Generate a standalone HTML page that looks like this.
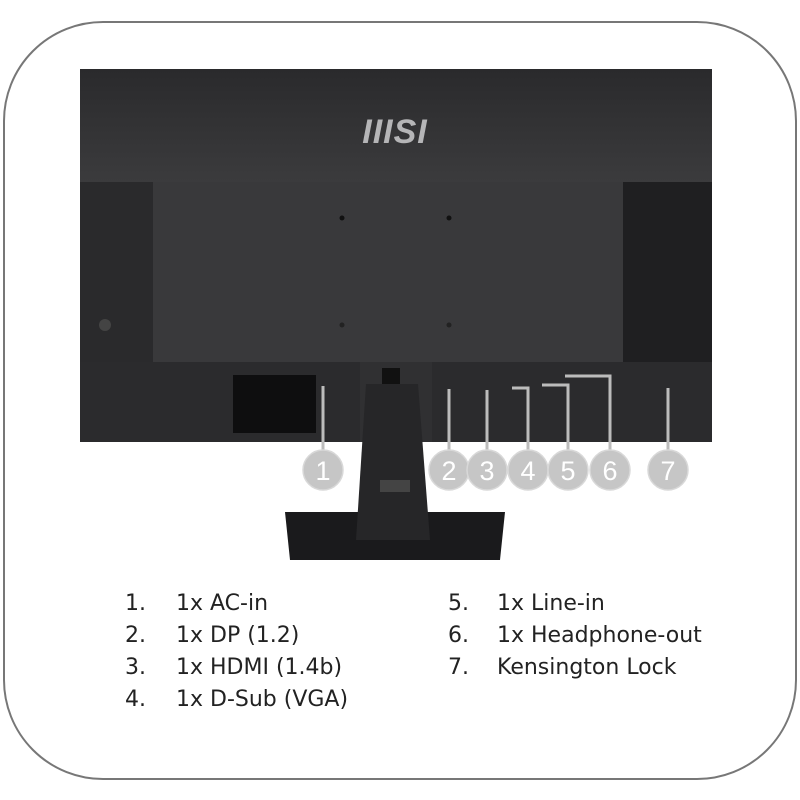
<!DOCTYPE html>
<html><head><style>
html,body{margin:0;padding:0;background:#fff;}
body{width:800px;height:800px;position:relative;overflow:hidden;font-family:"Liberation Sans",sans-serif;}
.frame{position:absolute;left:3px;top:21px;width:790px;height:755px;border:2px solid #777;border-radius:100px;}
.a{position:absolute;}
.txt{position:absolute;font-family:"DejaVu Sans","Liberation Sans",sans-serif;font-size:22px;color:#222;}
</style></head><body>
<div class="frame"></div>
<svg class="a" style="left:0;top:0" width="800" height="800">
<defs>
<linearGradient id="tg" x1="0" y1="0" x2="0" y2="1"><stop offset="0" stop-color="#2a2a2c"/><stop offset="1" stop-color="#3b3b3d"/></linearGradient>
</defs>
<rect x="80" y="69" width="632" height="373" fill="#252527"/>
<rect x="80" y="69" width="632" height="113" fill="url(#tg)"/>
<rect x="80" y="182" width="73" height="180" fill="#2a2a2c"/>
<rect x="153" y="182" width="470" height="180" fill="#39393b"/>
<rect x="623" y="182" width="89" height="180" fill="#1f1f21"/>
<rect x="80" y="362" width="632" height="80" fill="#2b2b2d"/>
<rect x="360" y="362" width="72" height="80" fill="#303032"/>
<text x="395" y="143" text-anchor="middle" font-family="Liberation Sans" font-weight="bold" font-style="italic" font-size="34" fill="#b5b5b7" letter-spacing="1">IIISI</text>
<circle cx="342" cy="218" r="2.5" fill="#111"/><circle cx="449" cy="218" r="2.5" fill="#111"/>
<circle cx="342" cy="325" r="2.5" fill="#222"/><circle cx="449" cy="325" r="2.5" fill="#222"/>
<circle cx="105" cy="325" r="6" fill="#444"/>
<rect x="233" y="375" width="83" height="58" fill="#0e0e0f"/>
<rect x="382" y="368" width="18" height="20" fill="#111"/>
<path d="M285 512 L505 512 L500 560 L290 560 Z" fill="#1a1a1c"/>
<path d="M366 384 L418 384 L430 540 L356 540 Z" fill="#262628"/>
<rect x="380" y="480" width="30" height="12" fill="#444"/>
<g stroke="#bcbcbc" stroke-width="3" fill="none">
<path d="M323 460 V386"/>
<path d="M449 460 V389"/>
<path d="M487 460 V390"/>
<path d="M528 460 V388 H512"/>
<path d="M568 460 V385 H542"/>
<path d="M610 460 V376 H565"/>
<path d="M668 460 V388"/>
</g>
<g fill="#c6c6c6" stroke="#d8d8d8" stroke-width="1.5">
<circle cx="323" cy="470" r="20"/><circle cx="449" cy="470" r="20"/><circle cx="487" cy="470" r="20"/>
<circle cx="528" cy="470" r="20"/><circle cx="568" cy="470" r="20"/><circle cx="610" cy="470" r="20"/><circle cx="668" cy="470" r="20"/>
</g>
<g fill="#fff" font-family="Liberation Sans" font-size="27" text-anchor="middle">
<text x="323" y="480">1</text><text x="449" y="480">2</text><text x="487" y="480">3</text><text x="528" y="480">4</text><text x="568" y="480">5</text><text x="610" y="480">6</text><text x="668" y="480">7</text>
</g>
</svg>
<div class="txt" style="left:125px;top:591px">1.</div><div class="txt" style="left:176px;top:591px">1x AC-in</div>
<div class="txt" style="left:125px;top:623px">2.</div><div class="txt" style="left:176px;top:623px">1x DP (1.2)</div>
<div class="txt" style="left:125px;top:655px">3.</div><div class="txt" style="left:176px;top:655px">1x HDMI (1.4b)</div>
<div class="txt" style="left:125px;top:687px">4.</div><div class="txt" style="left:176px;top:687px">1x D-Sub (VGA)</div>
<div class="txt" style="left:448px;top:591px">5.</div><div class="txt" style="left:497px;top:591px">1x Line-in</div>
<div class="txt" style="left:448px;top:623px">6.</div><div class="txt" style="left:497px;top:623px">1x Headphone-out</div>
<div class="txt" style="left:448px;top:655px">7.</div><div class="txt" style="left:497px;top:655px">Kensington Lock</div>
</body></html>
